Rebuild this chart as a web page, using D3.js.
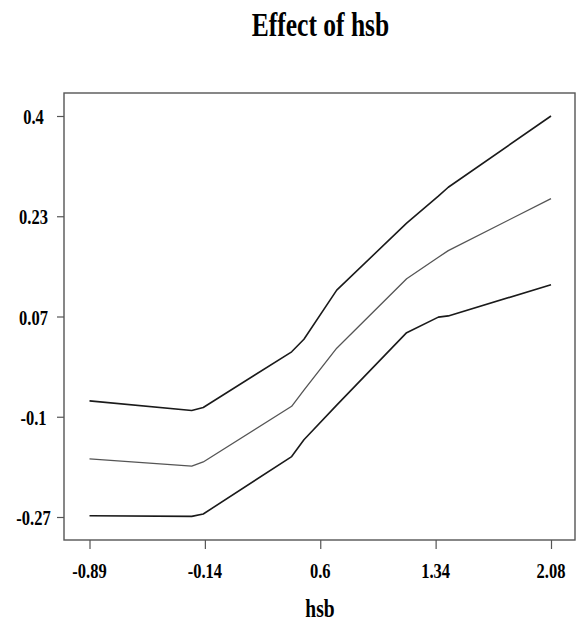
<!DOCTYPE html>
<html>
<head>
<meta charset="utf-8">
<script src="https://cdn.jsdelivr.net/npm/d3@7"></script>
<style>
  html, body { margin: 0; padding: 0; background: #fff; }
  svg { display: block; }
  text { font-family: "Liberation Serif", "Times New Roman", serif; font-weight: bold; fill: #000; }
</style>
</head>
<body>
<svg id="chart" width="579" height="622"></svg>
<script>
// ---- data ----
const hsb = [-0.89, -0.232, -0.158, 0.411, 0.490, 0.701, 1.151, 1.355, 1.419, 2.08];
const upper = [-0.076, -0.092, -0.087, 0.006, 0.027, 0.109, 0.221, 0.266, 0.281, 0.400];
const estimate = [-0.173, -0.185, -0.178, -0.085, -0.058, 0.012, 0.128, 0.164, 0.175, 0.262];
const lower = [-0.268, -0.269, -0.265, -0.169, -0.141, -0.083, 0.038, 0.064, 0.066, 0.118];
const xTickValues = [-0.89, -0.1475, 0.595, 1.3375, 2.08];
const xTickLabels = ["-0.89", "-0.14", "0.6", "1.34", "2.08"];
const yTickValues = [0.4, 0.2325, 0.065, -0.1025, -0.27];
const yTickLabels = ["0.4", "0.23", "0.07", "-0.1", "-0.27"];
const title = "Effect of hsb";
const xLabel = "hsb";

// ---- layout ----
const svg = d3.select("#chart");
const box = { left: 64, right: 575, top: 93, bottom: 540 };
const x = d3.scaleLinear().domain([-0.89, 2.08]).range([89.5, 551]);
const y = d3.scaleLinear().domain([-0.27, 0.4]).range([517, 116]);
const squeeze = 0.75;

// frame
svg.append("rect")
  .attr("x", box.left).attr("y", box.top)
  .attr("width", box.right - box.left).attr("height", box.bottom - box.top)
  .attr("fill", "none").attr("stroke", "#555").attr("stroke-width", 1.4);

// x axis
const xAxis = d3.axisBottom(x).tickValues(xTickValues).tickSize(9).tickFormat("");
const gx = svg.append("g").attr("transform", `translate(0,${box.bottom})`).call(xAxis);
gx.select(".domain").remove();
gx.selectAll(".tick line").attr("stroke", "#555").attr("stroke-width", 1.2);

// y axis
const yAxis = d3.axisLeft(y).tickValues(yTickValues).tickSize(7).tickFormat("");
const gy = svg.append("g").attr("transform", `translate(${box.left},0)`).call(yAxis);
gy.select(".domain").remove();
gy.selectAll(".tick line").attr("stroke", "#555").attr("stroke-width", 1.2);

// tick labels (condensed)
xTickValues.forEach((v, i) => {
  svg.append("text")
    .attr("transform", `translate(${x(v)},578) scale(${squeeze},1)`)
    .attr("text-anchor", "middle").attr("font-size", 22)
    .text(xTickLabels[i]);
});
yTickValues.forEach((v, i) => {
  svg.append("text")
    .attr("transform", `translate(33.5,${y(v) + 8}) scale(${squeeze},1)`)
    .attr("text-anchor", "middle").attr("font-size", 22)
    .text(yTickLabels[i]);
});

// title & axis label
svg.append("text")
  .attr("transform", `translate(320.5,36) scale(${squeeze},1)`)
  .attr("text-anchor", "middle").attr("font-size", 34)
  .text(title);
svg.append("text")
  .attr("transform", `translate(320,617) scale(${squeeze},1)`)
  .attr("text-anchor", "middle").attr("font-size", 26)
  .text(xLabel);

// lines
const line = d3.line().x(d => x(d[0])).y(d => y(d[1]));
const series = [
  { vals: upper, color: "#1a1a1a", w: 1.6 },
  { vals: estimate, color: "#555", w: 1.3 },
  { vals: lower, color: "#1a1a1a", w: 1.6 }
];
series.forEach(s => {
  svg.append("path")
    .datum(hsb.map((h, i) => [h, s.vals[i]]))
    .attr("d", line)
    .attr("fill", "none")
    .attr("stroke", s.color)
    .attr("stroke-width", s.w)
    .attr("stroke-linejoin", "round");
});
</script>
</body>
</html>
